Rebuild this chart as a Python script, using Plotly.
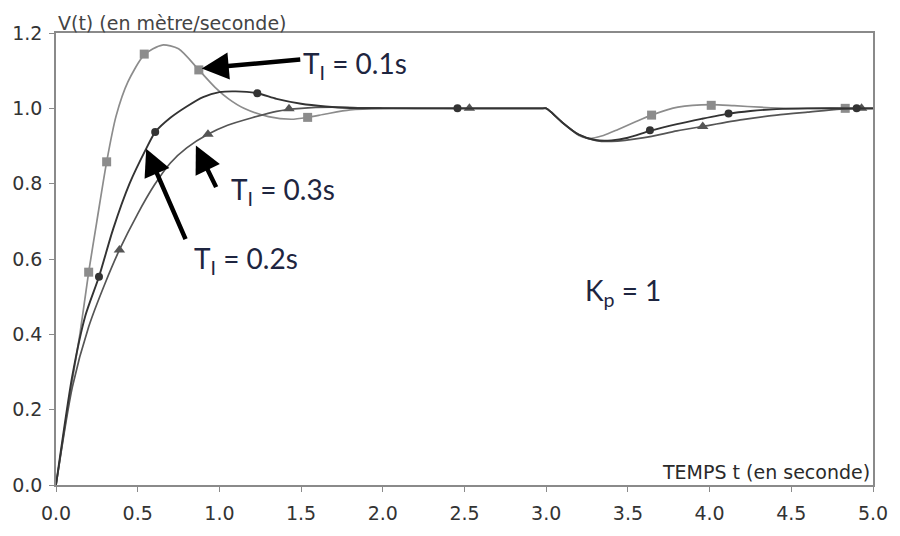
import plotly.graph_objects as go

# ---- data ----
# T_I = 0.1 s (light grey, squares)
t1 = [0, 0.07, 0.146, 0.2, 0.25, 0.31, 0.368, 0.44, 0.54, 0.65, 0.75, 0.874, 0.975, 1.056, 1.15, 1.3, 1.44, 1.54, 1.65, 1.8, 2.0, 2.5, 2.98, 3.0, 3.03, 3.1, 3.2, 3.26, 3.35, 3.44, 3.55, 3.645, 3.806, 4.01, 4.15, 4.31, 4.5, 5.0]
v1 = [0, 0.2, 0.4, 0.565, 0.7, 0.858, 0.98, 1.07, 1.142, 1.168, 1.158, 1.102, 1.055, 1.025, 1.0, 0.978, 0.971, 0.976, 0.985, 0.996, 1.0, 1.0, 1.0, 1.0, 0.99, 0.962, 0.928, 0.92, 0.928, 0.944, 0.965, 0.982, 1.003, 1.01, 1.007, 1.003, 1.0, 1.0]
m1_t = [0.2, 0.31, 0.54, 0.874, 1.54, 3.645, 4.01, 4.83]
m1_v = [0.565, 0.858, 1.144, 1.102, 0.976, 0.982, 1.008, 1.0]

# T_I = 0.2 s (dark, circles)
t2 = [0, 0.1, 0.18, 0.263, 0.35, 0.45, 0.552, 0.607, 0.7, 0.8, 0.9, 1.0, 1.1, 1.232, 1.35, 1.5, 1.65, 1.8, 2.0, 2.457, 2.98, 3.0, 3.03, 3.1, 3.2, 3.3, 3.4, 3.5, 3.635, 3.8, 3.95, 4.116, 4.25, 4.41, 4.6, 5.0]
v2 = [0, 0.29, 0.45, 0.553, 0.68, 0.80, 0.893, 0.937, 0.975, 1.005, 1.03, 1.043, 1.045, 1.040, 1.025, 1.012, 1.005, 1.001, 1.0, 1.0, 1.0, 1.0, 0.99, 0.962, 0.93, 0.916, 0.915, 0.922, 0.940, 0.958, 0.972, 0.986, 0.993, 0.998, 1.0, 1.0]
m2_t = [0.263, 0.607, 1.232, 2.457, 3.635, 4.116, 4.9]
m2_v = [0.553, 0.937, 1.040, 1.0, 0.942, 0.986, 1.0]

# T_I = 0.3 s (mid grey, triangles)
t3 = [0, 0.1, 0.2, 0.3, 0.388, 0.5, 0.6, 0.7, 0.8, 0.93, 1.05, 1.2, 1.35, 1.5, 1.7, 1.9, 2.2, 2.53, 2.98, 3.0, 3.03, 3.1, 3.2, 3.3, 3.4, 3.6, 3.8, 3.958, 4.2, 4.41, 4.6, 4.8, 5.0]
v3 = [0, 0.26, 0.42, 0.535, 0.624, 0.72, 0.795, 0.855, 0.895, 0.931, 0.955, 0.975, 0.992, 1.0, 1.003, 1.001, 1.0, 1.0, 1.0, 1.0, 0.99, 0.962, 0.93, 0.915, 0.912, 0.922, 0.94, 0.952, 0.97, 0.982, 0.99, 0.998, 1.0]
m3_t = [0.388, 0.93, 1.426, 2.53, 3.958, 4.93]
m3_v = [0.624, 0.931, 0.999, 1.0, 0.952, 1.0]

x_ticks = [0, 0.5, 1.0, 1.5, 2.0, 2.5, 3.0, 3.5, 4.0, 4.5, 5.0]
y_ticks = [0, 0.2, 0.4, 0.6, 0.8, 1.0, 1.2]

fig = go.Figure()

series = [
    (t1, v1, m1_t, m1_v, "#8c8c8c", "square", 9, 1.7),
    (t3, v3, m3_t, m3_v, "#555555", "triangle-up", 10, 1.7),
    (t2, v2, m2_t, m2_v, "#333333", "circle", 8, 1.9),
]
for t, v, mt, mv, col, sym, ms, lw in series:
    fig.add_trace(go.Scatter(x=t, y=v, mode="lines",
                             line=dict(color=col, width=lw, shape="spline", smoothing=0.7),
                             showlegend=False, hoverinfo="skip"))
    fig.add_trace(go.Scatter(x=mt, y=mv, mode="markers",
                             marker=dict(symbol=sym, size=ms, color=col),
                             showlegend=False, hoverinfo="skip"))

axis_font = dict(family="DejaVu Sans, Arial", size=19, color="#333333")
fig.update_xaxes(range=[0, 5], tickvals=x_ticks, tickformat=".1f",
                 showgrid=False, zeroline=False, showline=True, linecolor="#8a8a8a",
                 linewidth=1.5, mirror=True, ticks="outside", ticklen=5, tickcolor="#8a8a8a",
                 tickfont=axis_font, ticklabelstandoff=5)
fig.update_yaxes(range=[0, 1.2], tickvals=y_ticks, tickformat=".1f",
                 showgrid=False, zeroline=False, showline=True, linecolor="#8a8a8a",
                 linewidth=1.5, mirror=True, ticks="outside", ticklen=5, tickcolor="#8a8a8a",
                 tickfont=axis_font, ticklabelstandoff=3)

label_font = dict(family="Lato, Open Sans", size=28, color="#1e2540")
annos = [
    dict(x=0.892, y=1.106, ax=100, ay=-9),
    dict(x=0.856, y=0.901, ax=21, ay=43),
    dict(x=0.552, y=0.893, ax=40, ay=92),
]
for a in annos:
    fig.add_annotation(x=a["x"], y=a["y"], ax=a["ax"], ay=a["ay"], text="",
                       showarrow=True, arrowhead=2, arrowsize=1.2, arrowwidth=4.5,
                       arrowcolor="#000000")

texts = [
    (1.499, 1.116, "T<sub>I</sub> = 0.1s"),
    (1.056, 0.781, "T<sub>I</sub> = 0.3s"),
    (0.833, 0.598, "T<sub>I</sub> = 0.2s"),
    (3.228, 0.512, "K<sub>p</sub> = 1"),
]
for x, y, s in texts:
    fig.add_annotation(x=x, y=y, text=s, showarrow=False, xanchor="left", yanchor="middle",
                       font=label_font)

fig.add_annotation(xref="paper", yref="paper", x=0, y=1, xanchor="left", yanchor="bottom",
                   text="V(t) (en mètre/seconde)", showarrow=False, yshift=-3,
                   font=dict(family="DejaVu Sans, Arial", size=19, color="#444444"))
fig.add_annotation(xref="paper", yref="paper", x=1, y=0, xanchor="right", yanchor="bottom",
                   text="TEMPS t (en seconde)", showarrow=False, xshift=-1, yshift=0,
                   font=dict(family="DejaVu Sans, Arial", size=19, color="#2a2a2a"))

fig.update_layout(width=900, height=536, margin=dict(l=56, r=20, t=33, b=34),
                  paper_bgcolor="white", plot_bgcolor="white")

fig.write_html("out.html")
